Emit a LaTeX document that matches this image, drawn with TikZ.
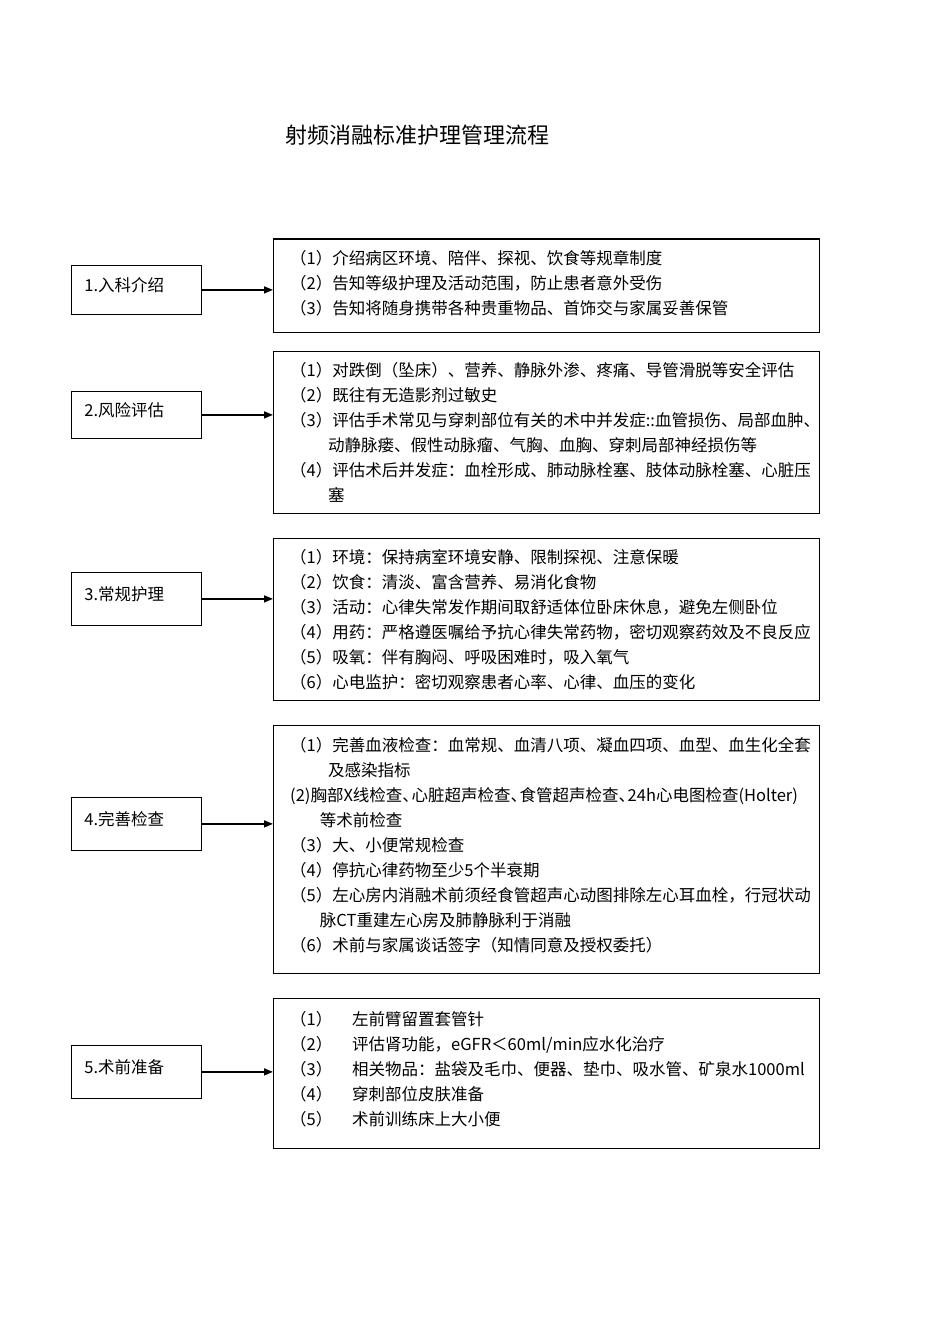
\documentclass[tikz,border=0pt]{standalone}
\usepackage{fontspec}
\setmainfont{Noto Sans CJK SC}
\usetikzlibrary{arrows.meta}

\newcommand\wrapind{\hspace*{2.3em}}
\newcommand\dun{、\hspace{-0.45em}}

\tikzset{
  lbox/.style={draw,line width=0.8pt,anchor=north west,minimum width=130pt,
    text width=104pt,inner xsep=13pt,align=left,text depth=11pt,
    font=\fontsize{16.5}{25}\selectfont},
  rbox/.style={draw,line width=0.8pt,anchor=north west,minimum width=546pt,inner sep=0pt},
  items/.style={anchor=north west,inner sep=0pt,align=left,font=\fontsize{16.5}{25}\selectfont},
  arr/.style={line width=1.4pt,-{Triangle[length=9pt,width=7pt]}}
}

\begin{document}
\begin{tikzpicture}[x=1pt,y=-1pt]
\useasboundingbox (0,0) rectangle (950,1344);

\node[anchor=west,inner sep=0pt,font=\fontsize{22}{26}\selectfont] (title) at (285,135) {射频消融标准护理管理流程};

% left column
\node[lbox,minimum height=49pt] (l1) at (71,265) {1.入科介绍};
\node[lbox,minimum height=47pt] (l2) at (71,391) {2.风险评估};
\node[lbox,minimum height=53pt] (l3) at (71,572) {3.常规护理};
\node[lbox,minimum height=53pt] (l4) at (71,797) {4.完善检查};
\node[lbox,minimum height=53pt] (l5) at (71,1045) {5.术前准备};

% right column
\node[rbox,minimum height=93pt] (r1) at (273,239) {};
\draw[line width=1.6pt] (r1.north west) -- (r1.north east);
\node[rbox,minimum height=162pt] (r2) at (273,351) {};
\node[rbox,minimum height=162pt] (r3) at (273,538) {};
\node[rbox,minimum height=248pt] (r4) at (273,725) {};
\node[rbox,minimum height=150pt] (r5) at (273,998) {};

\node[items] (t1) at (290,250) {（1）介绍病区环境、陪伴、探视、饮食等规章制度\\
（2）告知等级护理及活动范围，防止患者意外受伤\\
（3）告知将随身携带各种贵重物品、首饰交与家属妥善保管};

\node[items] (t2) at (290,362) {（1）对跌倒（坠床）、营养、静脉外渗、疼痛、导管滑脱等安全评估\\
（2）既往有无造影剂过敏史\\
（3）评估手术常见与穿刺部位有关的术中并发症::血管损伤、局部血肿、\\
\wrapind 动静脉瘘、假性动脉瘤、气胸、血胸、穿刺局部神经损伤等\\
（4）评估术后并发症：血栓形成、肺动脉栓塞、肢体动脉栓塞、心脏压\\
\wrapind 塞};

\node[items] (t3) at (290,549) {（1）环境：保持病室环境安静、限制探视、注意保暖\\
（2）饮食：清淡、富含营养、易消化食物\\
（3）活动：心律失常发作期间取舒适体位卧床休息，避免左侧卧位\\
（4）用药：严格遵医嘱给予抗心律失常药物，密切观察药效及不良反应\\
（5）吸氧：伴有胸闷、呼吸困难时，吸入氧气\\
（6）心电监护：密切观察患者心率、心律、血压的变化};

\node[items] (t4) at (290,737) {（1）完善血液检查：血常规、血清八项、凝血四项、血型、血生化全套\\
\wrapind 及感染指标\\
(2)胸部X线检查\dun 心脏超声检查\dun 食管超声检查\dun 24h心电图检查(Holter)\\
\hspace*{1.8em}等术前检查\\
（3）大、小便常规检查\\
（4）停抗心律药物至少5个半衰期\\
（5）左心房内消融术前须经食管超声心动图排除左心耳血栓，行冠状动\\
\hspace*{1.8em}脉CT重建左心房及肺静脉利于消融\\
（6）术前与家属谈话签字（知情同意及授权委托）};

\node[items] (t5) at (290,1011) {（1）\hspace{1.2em}左前臂留置套管针\\
（2）\hspace{1.2em}评估肾功能，eGFR＜60ml/min应水化治疗\\
（3）\hspace{1.2em}相关物品：盐袋及毛巾、便器、垫巾、吸水管、矿泉水1000ml\\
（4）\hspace{1.2em}穿刺部位皮肤准备\\
（5）\hspace{1.2em}术前训练床上大小便};

% connectors
\foreach \i in {1,...,5}
  \draw[arr] (l\i.east) -- (l\i.east -| r\i.west);
\end{tikzpicture}
\end{document}
